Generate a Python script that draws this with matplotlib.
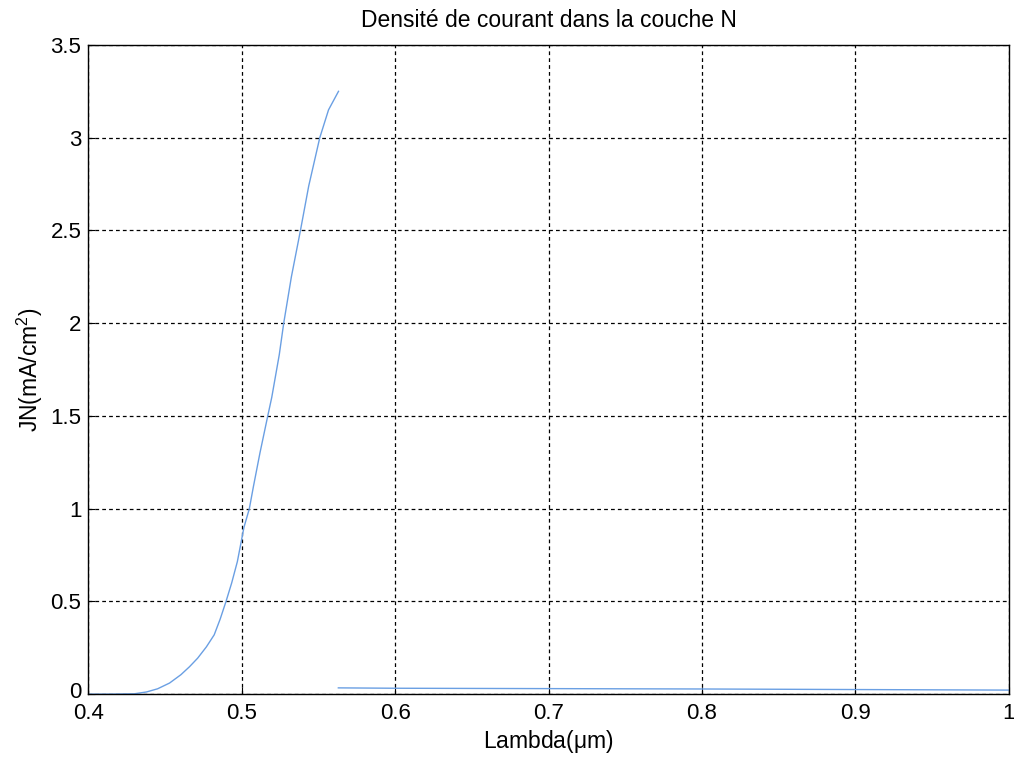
import matplotlib
matplotlib.use("Agg")
import matplotlib.pyplot as plt
import matplotlib.transforms as mtransforms

plt.rcParams['font.family'] = ['Liberation Sans', 'DejaVu Sans']
plt.rcParams['mathtext.fontset'] = 'custom'
plt.rcParams['mathtext.rm'] = 'Liberation Sans'
plt.rcParams['mathtext.it'] = 'Liberation Sans'

# Courbe montante (couche N)
lam_rise = [0.400, 0.415, 0.430, 0.438, 0.4452, 0.453, 0.4604, 0.466,
            0.4713, 0.477, 0.4821, 0.486, 0.4898, 0.4935, 0.4972, 0.5015,
            0.5050, 0.5076, 0.5119, 0.5170, 0.5196, 0.5245, 0.5274, 0.5324,
            0.5383, 0.5437, 0.5509, 0.5566, 0.5631]
jn_rise = [0.000, 0.0005, 0.002, 0.012, 0.029, 0.060, 0.105, 0.148,
           0.194, 0.255, 0.320, 0.405, 0.500, 0.600, 0.715, 0.900,
           1.000, 1.117, 1.300, 1.500, 1.600, 1.830, 2.000, 2.250,
           2.500, 2.740, 3.000, 3.150, 3.250]

# Partie quasi nulle
lam_flat = [0.563, 0.6, 0.7, 0.8, 0.9, 1.0]
jn_flat = [0.034, 0.032, 0.030, 0.028, 0.025, 0.022]

xticks = [0.4, 0.5, 0.6, 0.7, 0.8, 0.9, 1.0]
xticklabels = ['0.4', '0.5', '0.6', '0.7', '0.8', '0.9', '1']
yticks = [0, 0.5, 1, 1.5, 2, 2.5, 3, 3.5]
yticklabels = ['0', '0.5', '1', '1.5', '2', '2.5', '3', '3.5']

fig = plt.figure(figsize=(10.14, 7.62), dpi=100)
ax = fig.add_axes([0.087, 0.089, 0.908, 0.852])

couleur = '#6a9fe3'
ax.plot(lam_rise, jn_rise, color=couleur, lw=1.0)
ax.plot(lam_flat, jn_flat, color=couleur, lw=1.0)

ax.set_xlim(0.4, 1.0)
ax.set_ylim(0, 3.5)
ax.set_xticks(xticks)
ax.set_xticklabels(xticklabels)
ax.set_yticks(yticks)
ax.set_yticklabels(yticklabels)
ax.tick_params(direction='in', length=5, labelsize=16)
ax.tick_params(axis='x', pad=6.5)
ax.tick_params(axis='y', pad=5)
ax.grid(True, color='black', linestyle=(0, (3, 2.5)), linewidth=0.9)
for s in ax.spines.values():
    s.set_linewidth(1.0)

# le "0" de l'axe y remonte un peu pour ne pas toucher le "0.4"
lab0 = ax.get_yticklabels()[0]
lab0.set_transform(lab0.get_transform() +
                   mtransforms.ScaledTranslation(0, 3 / 72, fig.dpi_scale_trans))

ax.set_title('Densité de courant dans la couche N', fontsize=16.5, pad=13)
ax.set_xlabel(r'Lambda($\mu$m)', fontsize=16.5, labelpad=3)
ax.set_ylabel(r'JN(mA/cm$^2$)', fontsize=16.5, labelpad=4)

fig.savefig('out.png', dpi=100)
